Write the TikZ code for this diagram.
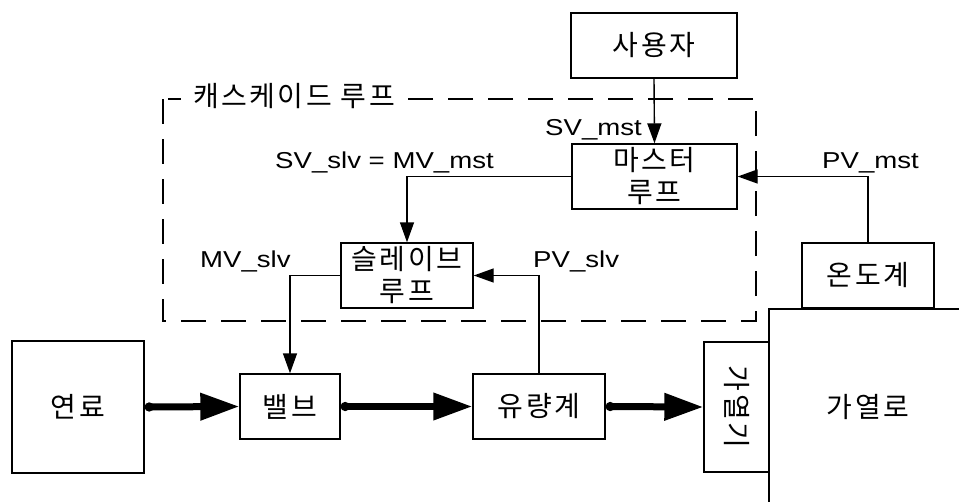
\documentclass[tikz,border=0pt]{standalone}
\usepackage{fontspec}
\setmainfont{Liberation Sans}[FakeStretch=1.2]
\newfontfamily\kr{Noto Sans CJK KR}[LetterSpace=9]
\usetikzlibrary{arrows.meta}
\begin{document}
\begin{tikzpicture}[x=1pt,y=-1pt,
  krfont/.style={font=\kr\fontsize{28}{32}\selectfont},
  box/.style={draw, line width=1.4pt, inner sep=0pt, align=center, krfont},
  lbl/.style={inner sep=0pt, font=\fontsize{23}{28}\selectfont},
  thin/.style={line width=1.4pt, -{Triangle[length=20pt,width=14pt]}},
  thick/.style={line width=7pt, {Circle[length=9pt]}-{Triangle[length=39pt,width=26pt]}},
  loopbox/.style={line width=1.4pt, dash pattern=on 25pt off 15pt}
]
\useasboundingbox (0,0) rectangle (959,501);

% dashed cascade loop
\draw[loopbox] (163,99) rectangle (756,321);
\node[fill=white, inner xsep=12pt, inner ysep=3pt, krfont] (cas) at (294,96) {캐스케이드 루프};

% boxes
\node[box, minimum width=166pt, minimum height=65pt] (user) at (654,45.5) {사용자};
\node[box, minimum width=165pt, minimum height=65pt] (master) at (654.5,176.5) {마스터\\루프};
\node[box, minimum width=132pt, minimum height=65pt] (slave) at (407,275.5) {슬레이브\\루프};
\node[box, minimum width=132pt, minimum height=65pt] (thermo) at (868,275.5) {온도계};
\node[box, minimum width=132pt, minimum height=132pt] (fuel) at (78,407) {연료};
\node[box, minimum width=100pt, minimum height=65pt] (valve) at (290,406.5) {밸브};
\node[box, minimum width=132pt, minimum height=65pt] (flow) at (539,406.5) {유량계};
\node[box, minimum width=65pt, minimum height=130pt] (heater) at (736.5,407) {};
\node[rotate=-90, inner sep=0pt, krfont] (heatertxt) at (heater.center) {가열기};

% furnace
\coordinate (fa) at (769,510);
\coordinate (fb) at (769,309);
\coordinate (fc) at (965,309);
\draw[line width=1.4pt] (fa) -- (fb) -- (fc);
\node[inner sep=0pt, krfont] (furnace) at (868,407) {가열로};

% signal lines
\draw[thin] (user.south) -- (master.north);
\draw[thin] (master.west) -| (slave.north);
\draw[thin] (thermo.north) |- (master.east);
\draw[thin] (flow.north) |- (slave.east);
\draw[thin] (slave.west) -| (valve.north);

% material flow
\draw[thick] (fuel.east) -- (valve.west);
\draw[thick] (valve.east) -- (flow.west);
\draw[thick] (flow.east) -- (heater.west);

% labels
\node[lbl, anchor=base west] (svmst) at (545,135) {SV\_mst};
\node[lbl, anchor=base west] (svslv) at (275,168) {SV\_slv = MV\_mst};
\node[lbl, anchor=base west] (pvmst) at (822,168) {PV\_mst};
\node[lbl, anchor=base west] (mvslv) at (200,267) {MV\_slv};
\node[lbl, anchor=base west] (pvslv) at (533,267) {PV\_slv};
\end{tikzpicture}
\end{document}
